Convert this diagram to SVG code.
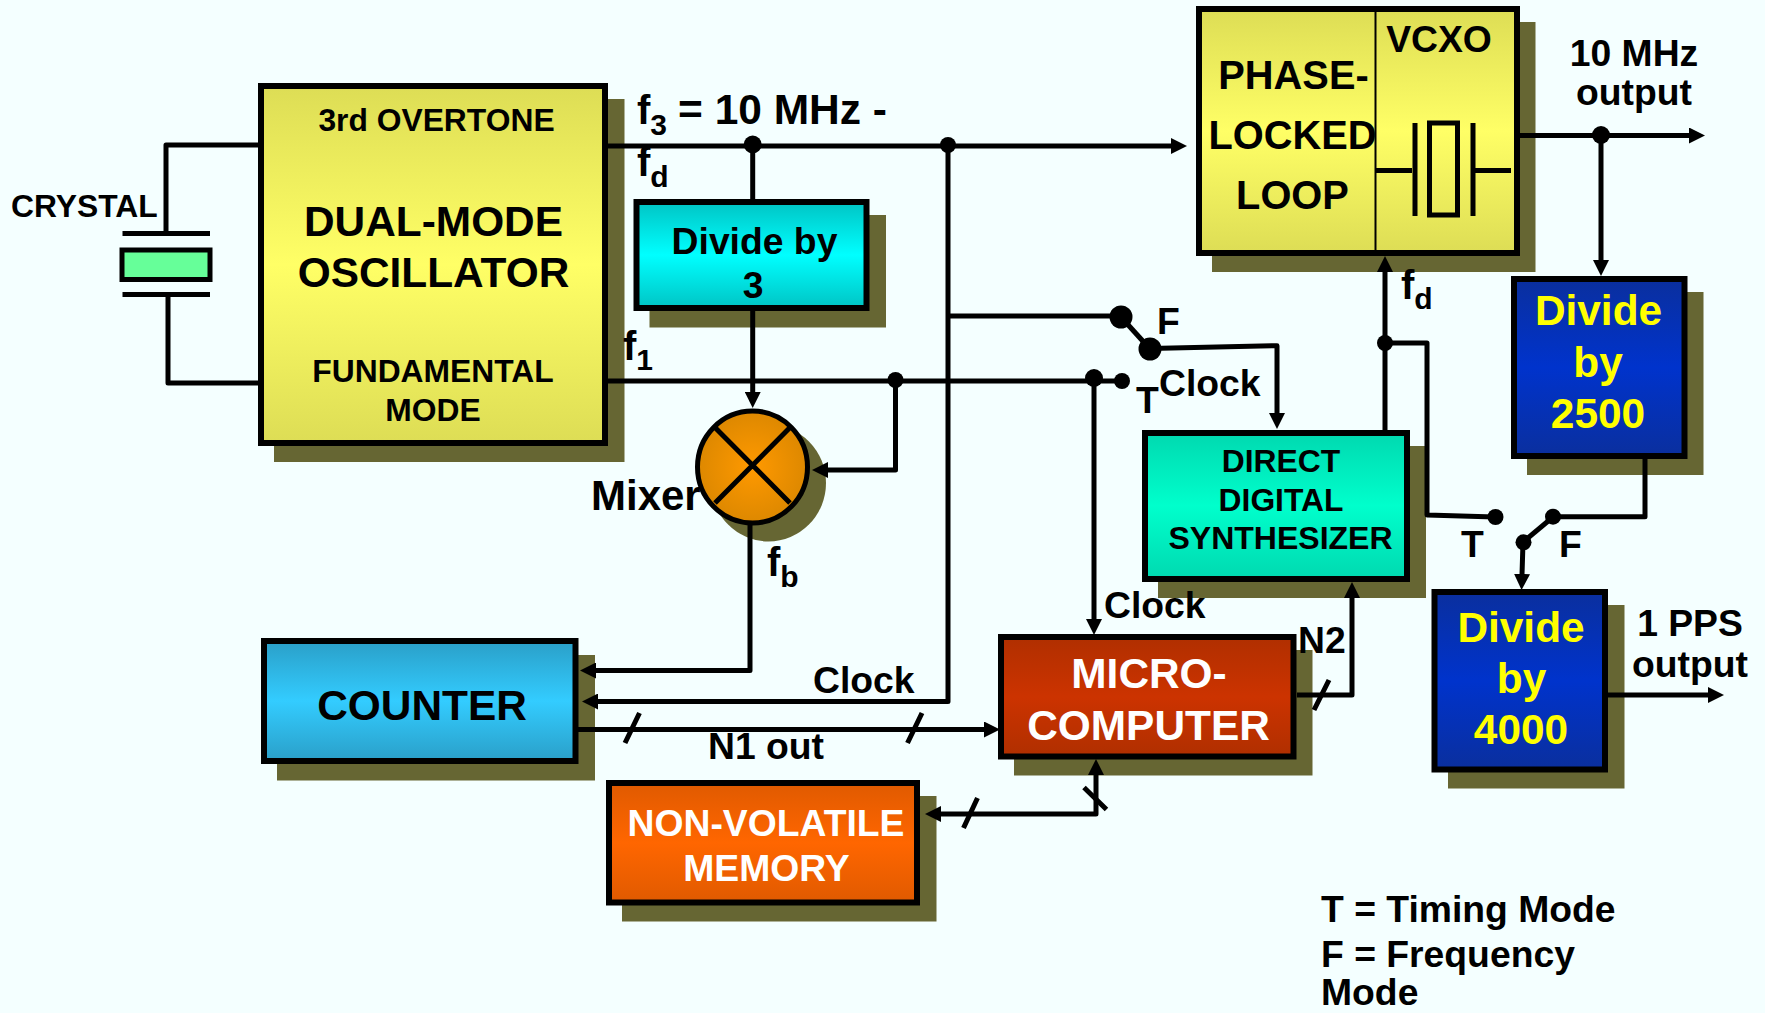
<svg xmlns="http://www.w3.org/2000/svg" width="1765" height="1013" viewBox="0 0 1765 1013">
<style>
text{font-family:"Liberation Sans",Arial,sans-serif;font-weight:700;fill:#000}
.m{text-anchor:middle}
.w{fill:#fff}
.y{fill:#ff0}
.f30{font-size:30px}.f32{font-size:31.800px}.f36{font-size:37.300px}.f38{font-size:39.800px}.f40{font-size:40px}.f42{font-size:42.400px}
.sh{fill:#666633}
.bx{stroke:#000;stroke-width:6}
.w5{fill:none;stroke:#000;stroke-width:5}
.c{fill:none;stroke:#000;stroke-width:5;stroke-linejoin:round}
.a{marker-end:url(#ah)}
.s{fill:none;stroke:#000;stroke-width:5}
.dot{fill:#000}
</style>
<defs>
<marker id="ah" viewBox="0 -8 16 16" refX="1" refY="0" markerWidth="16" markerHeight="16" markerUnits="userSpaceOnUse" orient="auto-start-reverse"><path d="M0,-8L16,0L0,8z" fill="#000"/></marker>
<linearGradient id="gY" x1="0" y1="0" x2="0" y2="1"><stop offset="0" stop-color="#dddd55"/><stop offset=".5" stop-color="#ffff66"/><stop offset="1" stop-color="#dddd55"/></linearGradient>
<linearGradient id="gC" x1="0" y1="0" x2="0" y2="1"><stop offset="0" stop-color="#00c4c4"/><stop offset=".5" stop-color="#00ffff"/><stop offset="1" stop-color="#00c4c4"/></linearGradient>
<linearGradient id="gT" x1="0" y1="0" x2="0" y2="1"><stop offset="0" stop-color="#00d9b0"/><stop offset=".5" stop-color="#00ffcc"/><stop offset="1" stop-color="#00d9b0"/></linearGradient>
<linearGradient id="gB" x1="0" y1="0" x2="0" y2="1"><stop offset="0" stop-color="#2a9fc8"/><stop offset=".5" stop-color="#33ccff"/><stop offset="1" stop-color="#2a9fc8"/></linearGradient>
<linearGradient id="gR" x1="0" y1="0" x2="0" y2="1"><stop offset="0" stop-color="#b02f00"/><stop offset=".5" stop-color="#cc3300"/><stop offset="1" stop-color="#b02f00"/></linearGradient>
<linearGradient id="gO" x1="0" y1="0" x2="0" y2="1"><stop offset="0" stop-color="#e05a00"/><stop offset=".5" stop-color="#ff6600"/><stop offset="1" stop-color="#e05a00"/></linearGradient>
<linearGradient id="gD" x1="0" y1="0" x2="0" y2="1"><stop offset="0" stop-color="#0a2f9e"/><stop offset=".5" stop-color="#0033cc"/><stop offset="1" stop-color="#0a2f9e"/></linearGradient>
<radialGradient id="gM"><stop offset="0" stop-color="#ff9900"/><stop offset="1" stop-color="#dd8800"/></radialGradient>
</defs>
<rect width="1765" height="1013" fill="#f4ffff"/>

<g id="crystal">
<rect x="122.500" y="231" width="87.500" height="5" fill="#000"/>
<rect x="122.500" y="292" width="87.500" height="5" fill="#000"/>
<rect x="122" y="250" width="88" height="29.500" fill="#66ff99" stroke="#000" stroke-width="5"/>
<text x="11" y="217" class="f32">CRYSTAL</text>
</g>

<g id="oscillator">
<rect class="sh" x="274" y="99" width="350.500" height="363"/>
<rect class="bx" x="261" y="86" width="344" height="357" fill="url(#gY)"/>
<text x="436.500" y="130.500" class="m f32">3rd OVERTONE</text>
<text x="433.500" y="236" class="m f42">DUAL-MODE</text>
<text x="433.500" y="287" class="m f42">OSCILLATOR</text>
<text x="433" y="382" class="m f32">FUNDAMENTAL</text>
<text x="433" y="421" class="m f32">MODE</text>
</g>

<g id="divide3">
<rect class="sh" x="649.500" y="215" width="236.500" height="112.500"/>
<rect class="bx" x="636.500" y="202" width="230" height="106" fill="url(#gC)"/>
<text x="754.500" y="253.500" class="m f36">Divide by</text>
<text x="753" y="298" class="m f36">3</text>
</g>

<g id="pll">
<rect class="sh" x="1212" y="22" width="323.500" height="250"/>
<rect class="bx" x="1199" y="9" width="318" height="244" fill="url(#gY)"/>
<path d="M1375.500,9V253" stroke="#000" stroke-width="2" fill="none"/>
<text x="1293.500" y="89" class="m f38">PHASE-</text>
<text x="1292.500" y="149" class="m f38">LOCKED</text>
<text x="1292.500" y="208.500" class="m f38">LOOP</text>
</g>

<g id="vcxo">
<text x="1439" y="52" class="m f36">VCXO</text>
<path class="w5" d="M1376,170.500H1412M1415,123V216M1473,123V216M1473,170.500H1511"/>
<rect class="w5" x="1429.500" y="123" width="28" height="92"/>
</g>

<g id="divide2500">
<rect class="sh" x="1527" y="292" width="176.500" height="183"/>
<rect class="bx" x="1514" y="279" width="170.500" height="177" fill="url(#gD)"/>
<text x="1598.500" y="324.500" class="m f42 y">Divide</text>
<text x="1598" y="376.500" class="m f42 y">by</text>
<text x="1598" y="428" class="m f42 y">2500</text>
</g>

<g id="dds">
<rect class="sh" x="1158" y="446" width="268" height="152"/>
<rect class="bx" x="1145" y="433" width="262" height="146" fill="url(#gT)"/>
<text x="1281" y="471.500" class="m f32">DIRECT</text>
<text x="1281" y="511" class="m f32">DIGITAL</text>
<text x="1280.500" y="549" class="m f32" style="font-size:32px">SYNTHESIZER</text>
</g>

<g id="divide4000">
<rect class="sh" x="1448" y="605" width="176.500" height="183.500"/>
<rect class="bx" x="1434.500" y="592" width="170.500" height="177.500" fill="url(#gD)"/>
<text x="1521" y="642" class="m f42 y">Divide</text>
<text x="1521.500" y="693" class="m f42 y">by</text>
<text x="1521" y="743.500" class="m f42 y">4000</text>
</g>

<g id="mixer">
<ellipse class="sh" cx="768.500" cy="483" rx="57.500" ry="58.500"/>
<ellipse cx="752.500" cy="467" rx="55" ry="56" fill="url(#gM)" stroke="#000" stroke-width="5"/>
<path class="w5" d="M715,427.500L790,503M790,427.500L715,503"/>
</g>

<g id="counter">
<rect class="sh" x="277" y="655" width="318" height="125.500"/>
<rect class="bx" x="264" y="641" width="311.500" height="120" fill="url(#gB)"/>
<text x="422" y="720" class="m f42">COUNTER</text>
</g>

<g id="microcomputer">
<rect class="sh" x="1014" y="650" width="298.500" height="125.500"/>
<rect class="bx" x="1001" y="637" width="292.500" height="119.500" fill="url(#gR)"/>
<text x="1149" y="688" class="m f42 w">MICRO-</text>
<text x="1148.500" y="740" class="m f42 w">COMPUTER</text>
</g>

<g id="memory">
<rect class="sh" x="622" y="796" width="314.500" height="125.500"/>
<rect class="bx" x="609" y="783" width="308" height="119.500" fill="url(#gO)"/>
<text x="766" y="836" class="m f36 w">NON-VOLATILE</text>
<text x="766.500" y="880.500" class="m f36 w">MEMORY</text>
</g>

<g id="connectors">
<path class="c" d="M166,233V145H258"/>
<path class="c" d="M168,294V383H258"/>
<path class="c a" d="M608,146H1172"/>
<path class="c" d="M752.700,146V199"/>
<path class="c a" d="M752.700,311V393"/>
<path class="c a" d="M948,146V701.500H597"/>
<path class="c" d="M948,316H1121"/>
<path class="c" d="M608,381H1122"/>
<path class="c a" d="M895.500,381V470H827"/>
<path class="c a" d="M1094,381V620"/>
<path class="c" d="M1121,317L1150,349"/>
<path class="c a" d="M1150,348.500L1277,345.700V414"/>
<path class="c a" d="M1385,430V271"/>
<path class="c" d="M1385,343H1427V515L1495,517"/>
<path class="c" d="M1553,516.700H1645V459"/>
<path class="c" d="M1553,517L1523,542"/>
<path class="c a" d="M1523,542L1522,575"/>
<path class="c a" d="M1520,135.500H1690"/>
<path class="c a" d="M1601,135.500V261"/>
<path class="c a" d="M1608,695H1709"/>
<path class="c a" d="M750,525V670.500H595"/>
<path class="c a" d="M578,729.500H985"/>
<path class="c a" d="M1297,695H1352V597"/>
<path class="c a" style="marker-start:url(#ah)" d="M1096,774V814H940"/>
<path class="s" d="M639.500,713L625,743M922,713L907.500,743M1329,680L1314,710M977.500,798L963.500,828M1084,787.500L1106.500,809.500"/>
<circle class="dot" cx="752.700" cy="144.500" r="9"/>
<circle class="dot" cx="948" cy="145" r="8"/>
<circle class="dot" cx="895.500" cy="380" r="8"/>
<circle class="dot" cx="1094" cy="378" r="9"/>
<circle class="dot" cx="1122" cy="381" r="8"/>
<circle class="dot" cx="1121" cy="317" r="11.500"/>
<circle class="dot" cx="1150" cy="349" r="11.500"/>
<circle class="dot" cx="1385" cy="343" r="8"/>
<circle class="dot" cx="1495.500" cy="517" r="8"/>
<circle class="dot" cx="1553" cy="516.700" r="8"/>
<circle class="dot" cx="1523.500" cy="542.300" r="8"/>
<circle class="dot" cx="1601" cy="135" r="9"/>
</g>

<g id="labels">
<text x="637" y="124" class="f40">f<tspan class="f30" dy="11">3</tspan></text>
<text x="678" y="124" style="font-size:42.500px">= 10 MHz -</text>
<text x="637" y="176" class="f40">f<tspan class="f30" dy="11">d</tspan></text>
<text x="623" y="360" class="f40">f<tspan class="f30" dy="10">1</tspan></text>
<text x="1401" y="299" class="f40">f<tspan class="f30" dy="10">d</tspan></text>
<text x="767" y="576" class="f40">f<tspan class="f30" dy="11">b</tspan></text>
<text x="591" y="510" style="font-size:42px">Mixer</text>
<text x="1157" y="334" class="f36">F</text>
<text x="1136" y="413" class="f36">T</text>
<text x="1159" y="396" class="f36">Clock</text>
<text x="1104" y="618" class="f36">Clock</text>
<text x="813" y="693" class="f36">Clock</text>
<text x="708" y="759" class="f36">N1 out</text>
<text x="1298" y="653" class="f36">N2</text>
<text x="1461" y="557" class="f36">T</text>
<text x="1559" y="557" class="f36">F</text>
<text x="1634" y="66" class="m f36">10 MHz</text>
<text x="1634" y="105" class="m f36">output</text>
<text x="1690" y="636" class="m f36">1 PPS</text>
<text x="1690" y="677" class="m f36">output</text>
<text x="1321" y="922" class="f36">T = Timing Mode</text>
<text x="1321" y="967" class="f36">F = Frequency</text>
<text x="1321" y="1005" class="f36">Mode</text>
</g>
</svg>
